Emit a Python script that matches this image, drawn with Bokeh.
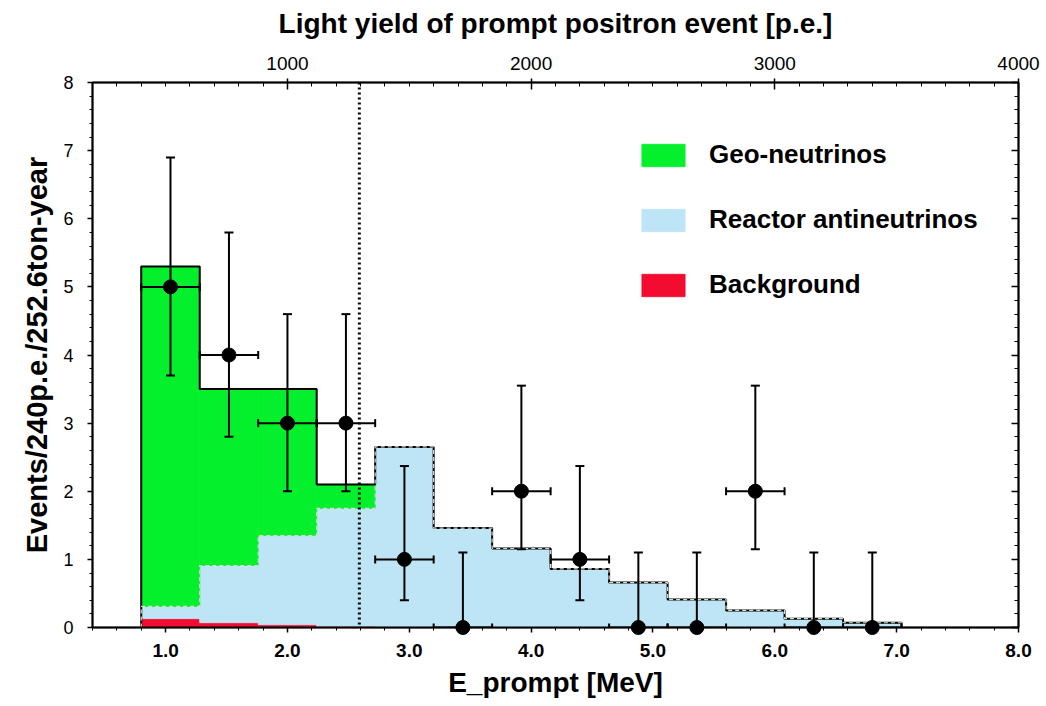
import numpy as np
from bokeh.plotting import figure
from bokeh.models import (Range1d, LinearAxis, FixedTicker, NumeralTickFormatter,
                          Whisker, TeeHead, ColumnDataSource, Span, Legend, LegendItem)
from bokeh.embed import file_html
from bokeh.resources import INLINE

# ---------------- data ----------------
bin_edges = [0.80, 1.28, 1.76, 2.24, 2.72, 3.20, 3.68, 4.16, 4.64, 5.12, 5.60, 6.08, 6.56, 7.04]
background = [0.13, 0.07, 0.04, 0.02, 0.01, 0.0, 0.0, 0.0, 0.0, 0.0, 0.0, 0.0, 0.0]
reactor = [0.18, 0.84, 1.31, 1.73, 2.64, 1.46, 1.16, 0.86, 0.66, 0.41, 0.25, 0.13, 0.07]
geo = [4.99, 2.59, 2.15, 0.35, 0.0, 0.0, 0.0, 0.0, 0.0, 0.0, 0.0, 0.0, 0.0]
data_counts = [5, 4, 3, 3, 1, 0, 2, 1, 0, 0, 2, 0, 0]
err_low = [3.70, 2.80, 2.00, 2.00, 0.40, 0.0, 1.15, 0.40, 0.0, 0.0, 1.15, 0.0, 0.0]
err_high = [6.90, 5.80, 4.60, 4.60, 2.37, 1.10, 3.55, 2.37, 1.10, 1.10, 3.55, 1.10, 1.10]
threshold_mev = 2.59
pe_per_mev = 500
x_ticks = [1.0, 2.0, 3.0, 4.0, 5.0, 6.0, 7.0, 8.0]
y_ticks = [0, 1, 2, 3, 4, 5, 6, 7, 8]
pe_ticks = [1000, 2000, 3000, 4000]
labels = ["Geo-neutrinos", "Reactor antineutrinos", "Background"]

GREEN = "#05f02c"
BLUE = "#bee5f5"
RED = "#f20c30"
FONT = "Liberation Sans"

# ---------------- derived ----------------
edges = np.array(bin_edges)
left = edges[:-1]
right = edges[1:]
centers = (left + right) / 2
half = (right - left) / 2
bkg = np.array(background)
rea = np.array(reactor)
geo_a = np.array(geo)
rea_top = bkg + rea
total = rea_top + geo_a

x_lo, x_hi = 0.4, 8.0

p = figure(width=1046, height=706,
           x_range=Range1d(x_lo, x_hi), y_range=Range1d(0, 8),
           output_backend="svg", toolbar_location=None,
           min_border_left=92, min_border_right=28,
           min_border_top=82, min_border_bottom=79)
p.xgrid.visible = False
p.ygrid.visible = False
p.outline_line_color = "black"
p.outline_line_width = 1.5
p.background_fill_color = "white"
p.border_fill_color = "white"


def style_axis(ax):
    ax.axis_line_width = 2
    ax.axis_line_color = "black"
    ax.major_tick_line_color = "black"
    ax.minor_tick_line_color = "black"
    ax.major_label_text_color = "black"
    ax.axis_label_text_color = "black"
    ax.major_tick_line_width = 1.5
    ax.minor_tick_line_width = 1


# bottom axis
xa = p.xaxis[0]
style_axis(xa)
xa.ticker = FixedTicker(ticks=x_ticks,
                        minor_ticks=list(np.round(np.arange(x_lo, x_hi + 0.001, 0.2), 2)))
xa.formatter = NumeralTickFormatter(format="0.0")
xa.axis_label = "E_prompt [MeV]"
xa.axis_label_text_font = FONT
xa.axis_label_text_font_style = "bold"
xa.axis_label_text_font_size = "28px"
xa.axis_label_standoff = 7
xa.major_label_text_font = FONT
xa.major_label_text_font_style = "bold"
xa.major_label_text_font_size = "19px"
xa.major_label_standoff = 11
xa.major_tick_out = 5
xa.major_tick_in = 0
xa.minor_tick_out = 3
xa.minor_tick_in = 0

# left axis
ya = p.yaxis[0]
style_axis(ya)
ya.ticker = FixedTicker(ticks=y_ticks,
                        minor_ticks=list(np.round(np.arange(0, 8.001, 0.2), 2)))
ya.axis_label = "Events/240p.e./252.6ton-year"
ya.axis_label_text_font = FONT
ya.axis_label_text_font_style = "bold"
ya.axis_label_text_font_size = "29px"
ya.axis_label_standoff = 7
ya.major_label_text_font = FONT
ya.major_label_text_font_style = "normal"
ya.major_label_text_font_size = "18px"
ya.major_label_standoff = 14
ya.major_tick_out = 5
ya.major_tick_in = 0
ya.minor_tick_out = 3
ya.minor_tick_in = 0

# top axis (p.e.)
p.extra_x_ranges = {"pe": Range1d(x_lo * pe_per_mev, x_hi * pe_per_mev)}
top = LinearAxis(x_range_name="pe",
                 ticker=FixedTicker(ticks=pe_ticks,
                                    minor_ticks=list(range(int(x_lo * pe_per_mev),
                                                           int(x_hi * pe_per_mev) + 1, 100))))
style_axis(top)
top.axis_label = "Light yield of prompt positron event [p.e.]"
top.axis_label_text_font = FONT
top.axis_label_text_font_style = "bold"
top.axis_label_text_font_size = "28px"
top.axis_label_standoff = 15
top.major_label_text_font = FONT
top.major_label_text_font_size = "19px"
top.major_label_standoff = 9
top.major_tick_out = 4
top.major_tick_in = 7
top.minor_tick_out = 0
top.minor_tick_in = 4
p.add_layout(top, "above")

# right axis (no labels)
ra = LinearAxis(ticker=FixedTicker(ticks=y_ticks,
                                   minor_ticks=list(np.round(np.arange(0, 8.001, 0.2), 2))))
style_axis(ra)
ra.major_label_overrides = {t: "" for t in y_ticks}
ra.major_label_standoff = 0
ra.major_tick_out = 0
ra.major_tick_in = 7
ra.minor_tick_out = 0
ra.minor_tick_in = 4
p.add_layout(ra, "right")

# ---------------- stacked histogram ----------------
r_bkg = p.quad(left=left, right=right, bottom=0, top=bkg,
               fill_color=RED, line_color=RED, line_width=0.8)
r_rea = p.quad(left=left, right=right, bottom=bkg, top=rea_top,
               fill_color=BLUE, line_color=BLUE, line_width=0.8)
r_geo = p.quad(left=left, right=right, bottom=rea_top, top=total,
               fill_color=GREEN, line_color=GREEN, line_width=0.8)

sx = np.concatenate([[edges[0]], edges])
p.step(sx, np.concatenate([[0], total, [0]]), mode="after",
       line_color="black", line_width=2)
p.step(sx, np.concatenate([[0], rea_top, [0]]), mode="after",
       line_color="#d8d8d8", line_width=1.2, line_dash="4 3")

# threshold line
p.add_layout(Span(location=threshold_mev, dimension="height",
                  line_color="black", line_width=3, line_dash="2 3"))

# ---------------- data points ----------------
src = ColumnDataSource(dict(x=centers, y=data_counts, lo=err_low, hi=err_high,
                            xl=centers - half, xr=centers + half))
wv = Whisker(source=src, base="x", lower="lo", upper="hi", dimension="height",
             line_color="black", line_width=2, level="annotation",
             upper_head=TeeHead(size=9, line_width=2, line_color="black"),
             lower_head=TeeHead(size=9, line_width=2, line_color="black"))
wh = Whisker(source=src, base="y", lower="xl", upper="xr", dimension="width",
             line_color="black", line_width=2, level="annotation",
             upper_head=TeeHead(size=8, line_width=2, line_color="black"),
             lower_head=TeeHead(size=8, line_width=2, line_color="black"))
p.add_layout(wv)
p.add_layout(wh)
p.scatter("x", "y", source=src, size=14, color="black", level="annotation")

# ---------------- legend ----------------
legend = Legend(items=[LegendItem(label=labels[0], renderers=[r_geo]),
                       LegendItem(label=labels[1], renderers=[r_rea]),
                       LegendItem(label=labels[2], renderers=[r_bkg])],
                location=(544, 327), orientation="vertical",
                glyph_width=54, glyph_height=28, label_height=30,
                label_standoff=19, spacing=34, padding=0, margin=0,
                border_line_color=None, background_fill_alpha=0,
                label_text_font=FONT, label_text_font_style="bold",
                label_text_font_size="26px", label_text_color="black")
p.add_layout(legend)

open("out.html", "w").write(file_html(p, INLINE))
